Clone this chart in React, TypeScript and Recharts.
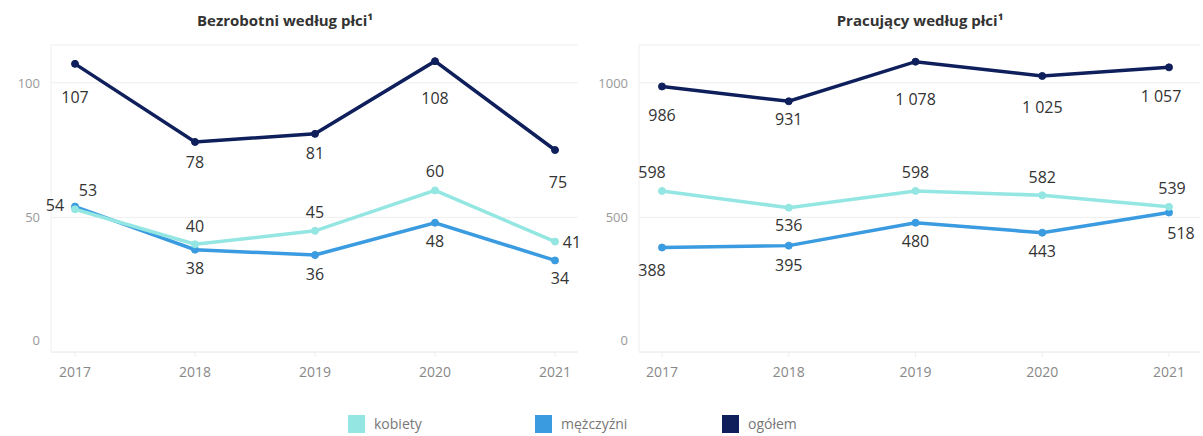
import React from 'react'
import { LineChart, Line, XAxis, YAxis, CartesianGrid } from 'recharts'

const years = ['2017', '2018', '2019', '2020', '2021']

// Bezrobotni (tys.)
const bezKobiety = [53, 40, 45, 60, 41]
const bezMezczyzni = [54, 38, 36, 48, 34]
const bezOgolem = [107, 78, 81, 108, 75]

// Pracujący (tys.)
const pracKobiety = [598, 536, 598, 582, 539]
const pracMezczyzni = [388, 395, 480, 443, 518]
const pracOgolem = [986, 931, 1078, 1025, 1057]

const seriesNames = ['kobiety', 'mężczyźni', 'ogółem']
const colors = ['#94e6e2', '#3a9be0', '#0e1f5b']

const FONT = "'Segoe UI', 'Open Sans', sans-serif"

// label offsets (dx, dy) relative to the point, per series
const bezLabelPos = {
  kobiety: [[13, -19], [0, -18], [0, -19], [0, -19], [17, 0]],
  mezczyzni: [[-20, -2], [0, 18], [0, 19], [0, 18], [5, 18]],
  ogolem: [[0, 33], [0, 20], [0, 19], [0, 37], [3, 32]],
}
const pracLabelPos = {
  kobiety: [[-10, -19], [0, 17], [0, -19], [0, -18], [3, -19]],
  mezczyzni: [[-10, 22], [0, 19], [0, 18], [0, 18], [12, 20]],
  ogolem: [[0, 29], [0, 18], [0, 37], [0, 31], [-8, 29]],
}

const fmt = (v: number) => String(v).replace(/\B(?=(\d{3})+(?!\d))/g, ' ')

const makeLabel = (pos: number[][]) => (props: any) => {
  const { x, y, index, value } = props
  const [dx, dy] = pos[index] || [0, 0]
  return (
    <text
      key={'l' + index}
      x={x + dx}
      y={y + dy}
      textAnchor="middle"
      dominantBaseline="central"
      fontSize={16}
      fill="#333"
      fontFamily={FONT}
    >
      {fmt(value)}
    </text>
  )
}

const YTick = ({ x, y, payload }: any) => (
  <text
    x={x}
    y={payload.value === 0 ? y - 12 : y}
    textAnchor="end"
    dominantBaseline="central"
    fontSize={13}
    fill="#999"
    fontFamily={FONT}
  >
    {payload.value}
  </text>
)

const XTick = ({ x, y, payload }: any) => (
  <text x={x} y={y + 12} textAnchor="middle" dominantBaseline="central" fontSize={14} fill="#888" fontFamily={FONT}>
    {payload.value}
  </text>
)

type PanelProps = {
  data: any[]
  domain: number[]
  ticks: number[]
  width: number
  yWidth: number
  marginRight: number
  padding: { left: number; right: number }
  labelPos: any
}

const Panel = ({ data, domain, ticks, width, yWidth, marginRight, padding, labelPos }: PanelProps) => (
  <LineChart width={width} height={400} data={data} margin={{ top: 45, right: marginRight, bottom: 0, left: 0 }}>
    <CartesianGrid vertical={false} stroke="#eeeeee" />
    <XAxis
      dataKey="year"
      height={48}
      padding={padding}
      axisLine={{ stroke: '#eeeeee' }}
      tickLine={{ stroke: '#eeeeee' }}
      tickSize={5}
      tick={<XTick />}
    />
    <YAxis
      width={yWidth}
      domain={domain}
      ticks={ticks}
      axisLine={{ stroke: '#eeeeee' }}
      tickLine={false}
      tickSize={0}
      tickMargin={11}
      tick={<YTick />}
    />
    <Line
      dataKey="mezczyzni"
      stroke={colors[1]}
      strokeWidth={3.5}
      dot={{ r: 3.5, fill: colors[1], stroke: colors[1], strokeWidth: 1 }}
      label={makeLabel(labelPos.mezczyzni)}
      isAnimationActive={false}
    />
    <Line
      dataKey="kobiety"
      stroke={colors[0]}
      strokeWidth={3.5}
      dot={{ r: 3.5, fill: colors[0], stroke: colors[0], strokeWidth: 1 }}
      label={makeLabel(labelPos.kobiety)}
      isAnimationActive={false}
    />
    <Line
      dataKey="ogolem"
      stroke={colors[2]}
      strokeWidth={3.5}
      dot={{ r: 3.5, fill: colors[2], stroke: colors[2], strokeWidth: 1 }}
      label={makeLabel(labelPos.ogolem)}
      isAnimationActive={false}
    />
  </LineChart>
)

const bezData = years.map((year, i) => ({
  year,
  kobiety: bezKobiety[i],
  mezczyzni: bezMezczyzni[i],
  ogolem: bezOgolem[i],
}))

const pracData = years.map((year, i) => ({
  year,
  kobiety: pracKobiety[i],
  mezczyzni: pracMezczyzni[i],
  ogolem: pracOgolem[i],
}))

const titleStyle: React.CSSProperties = {
  position: 'absolute',
  top: 10,
  fontSize: 15,
  fontWeight: 700,
  color: '#333',
  textAlign: 'center',
  fontFamily: FONT,
  whiteSpace: 'nowrap',
}

const legendX = [348, 535, 722]

const App = () => {
  return (
    <div style={{ position: 'absolute', left: 0, top: 0, width: 1203, height: 436, background: '#fff', fontFamily: FONT }}>
      <div style={{ ...titleStyle, left: 185, width: 200 }}>Bezrobotni według płci¹</div>
      <div style={{ ...titleStyle, left: 820, width: 200 }}>Pracujący według płci¹</div>

      <div style={{ position: 'absolute', left: 0, top: 0 }}>
        <Panel
          data={bezData}
          domain={[0, 114]}
          ticks={[0, 50, 100]}
          width={590}
          yWidth={51}
          marginRight={12}
          padding={{ left: 24, right: 23 }}
          labelPos={bezLabelPos}
        />
      </div>
      <div style={{ position: 'absolute', left: 590, top: 0 }}>
        <Panel
          data={pracData}
          domain={[0, 1140]}
          ticks={[0, 500, 1000]}
          width={613}
          yWidth={49}
          marginRight={3}
          padding={{ left: 23, right: 31 }}
          labelPos={pracLabelPos}
        />
      </div>

      {seriesNames.map((name, i) => (
        <div key={name} style={{ position: 'absolute', left: legendX[i], top: 414, display: 'flex', alignItems: 'center' }}>
          <div style={{ width: 17, height: 18, background: colors[i] }} />
          <span style={{ marginLeft: 9, fontSize: 14, color: '#777' }}>{name}</span>
        </div>
      ))}
    </div>
  )
}

export default App
